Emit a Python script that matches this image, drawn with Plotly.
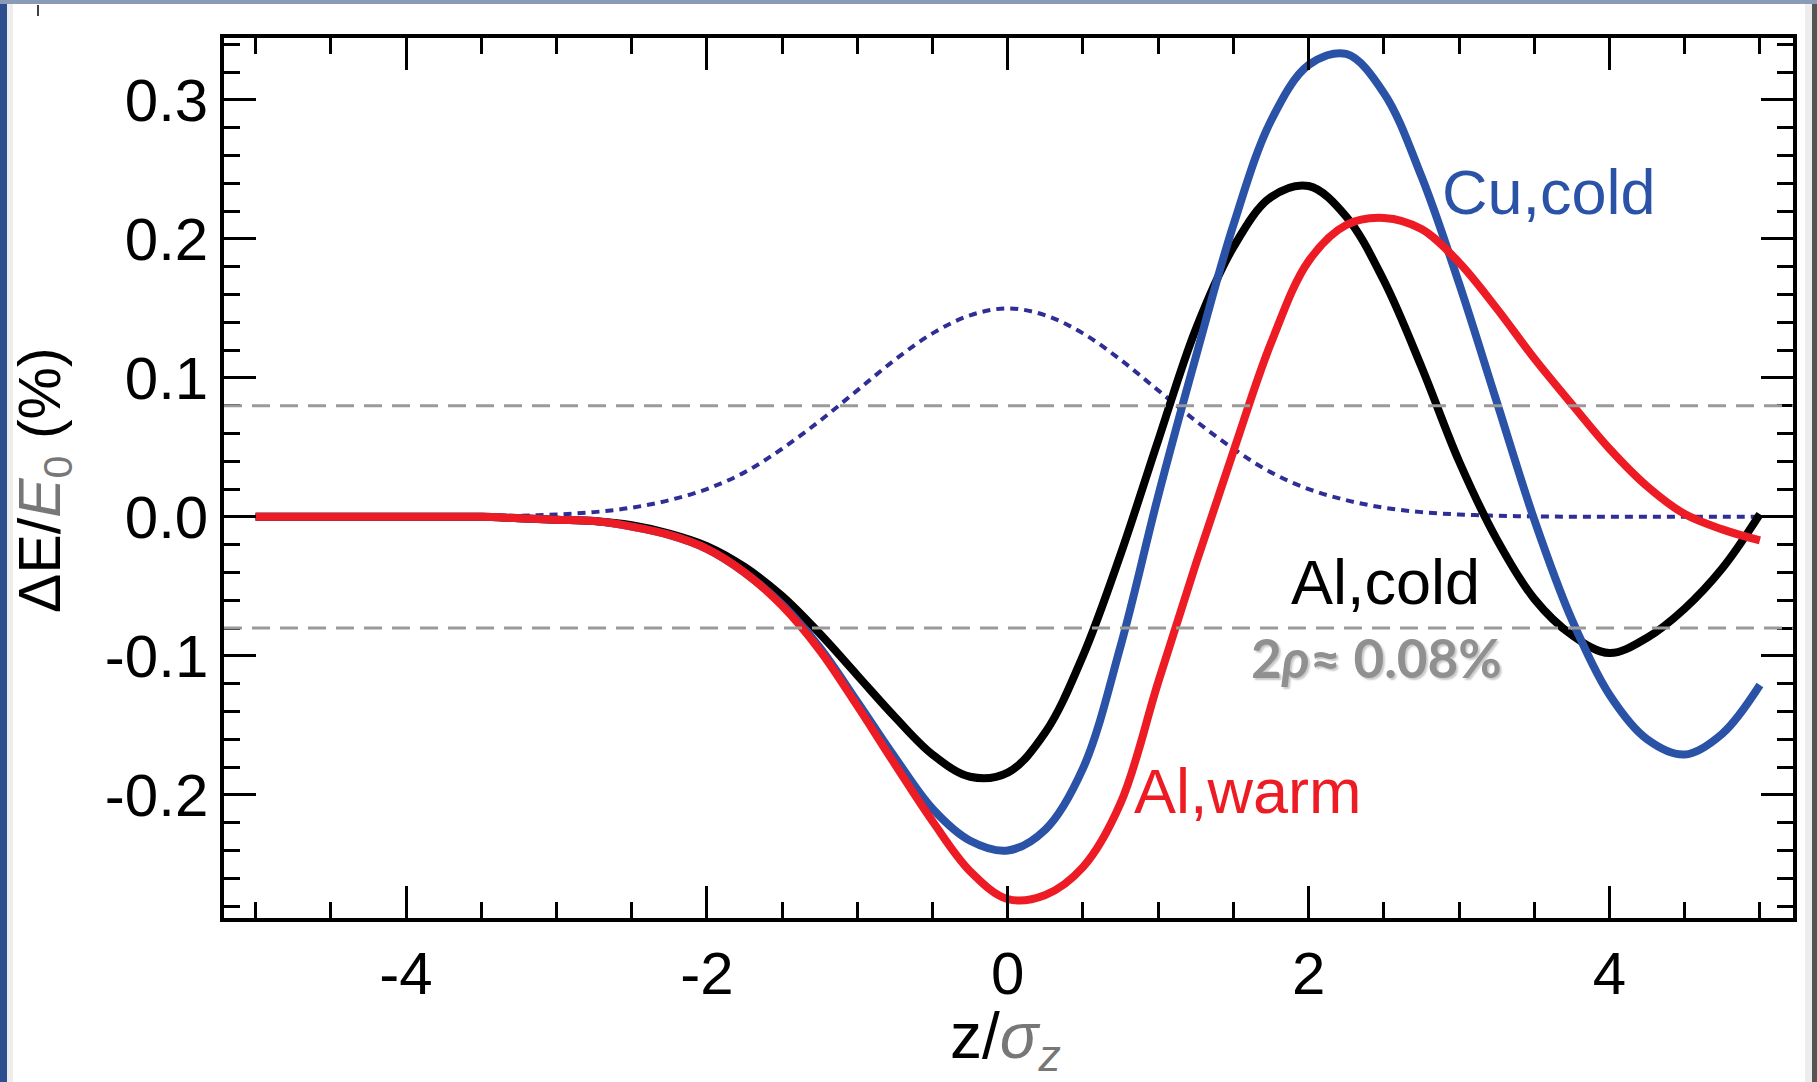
import plotly.graph_objects as go

# ---------------- data ----------------
z = [-5.0, -4.75, -4.5, -4.25, -4.0, -3.75, -3.5, -3.25, -3.0, -2.75, -2.5, -2.25,
     -2.0, -1.75, -1.5, -1.25, -1.0, -0.75, -0.5, -0.25, 0.0, 0.25, 0.5, 0.75,
     1.0, 1.25, 1.5, 1.75, 2.0, 2.25, 2.5, 2.75, 3.0, 3.25, 3.5, 3.75,
     4.0, 4.25, 4.5, 4.75, 5.0]

al_cold = [0, 0, 0, 0, 0, 0, 0, -0.001, -0.002, -0.003, -0.006, -0.012,
           -0.021, -0.036, -0.057, -0.084, -0.114, -0.144, -0.171, -0.187, -0.184, -0.155,
           -0.100, -0.027, 0.055, 0.135, 0.194, 0.230, 0.238, 0.216, 0.170, 0.108,
           0.040, -0.016, -0.059, -0.085, -0.098, -0.087, -0.066, -0.037, 0.002]

cu_cold = [0, 0, 0, 0, 0, 0, 0, -0.001, -0.002, -0.003, -0.007, -0.013,
           -0.023, -0.040, -0.063, -0.094, -0.133, -0.173, -0.210, -0.233, -0.240, -0.225,
           -0.181, -0.093, 0.015, 0.115, 0.210, 0.285, 0.325, 0.333, 0.305, 0.245,
           0.168, 0.083, -0.002, -0.074, -0.128, -0.160, -0.171, -0.156, -0.121]

al_warm = [0, 0, 0, 0, 0, 0, 0, -0.001, -0.002, -0.003, -0.007, -0.013,
           -0.023, -0.040, -0.064, -0.096, -0.136, -0.178, -0.219, -0.255, -0.275, -0.272,
           -0.252, -0.206, -0.119, -0.034, 0.047, 0.125, 0.184, 0.210, 0.215, 0.207,
           0.183, 0.150, 0.114, 0.081, 0.049, 0.022, 0.002, -0.009, -0.017]

bunch = [0, 0, 0, 0, 0, 0, 0.0003, 0.0008, 0.0017, 0.0034, 0.0066, 0.012,
         0.020, 0.032, 0.049, 0.069, 0.091, 0.113, 0.132, 0.145, 0.150, 0.145,
         0.132, 0.113, 0.091, 0.069, 0.049, 0.032, 0.020, 0.012, 0.0066, 0.0034,
         0.0017, 0.0008, 0.0003, 0.0001, 0, 0, 0, 0, 0]

band = [0.08, -0.08]

x_tick_vals = [-4, -2, 0, 2, 4]
x_tick_text = ["-4", "-2", "0", "2", "4"]
y_tick_vals = [-0.2, -0.1, 0.0, 0.1, 0.2, 0.3]
y_tick_text = ["-0.2", "-0.1", "0.0", "0.1", "0.2", "0.3"]

labels = ["Cu,cold", "Al,cold", "Al,warm"]

# ---------------- figure ----------------
W, H = 1817, 1082
ML, MR, MT, MB = 224, 24, 38, 164
FONT = "Liberation Sans, Arial, Helvetica, sans-serif"

RED = "#ED1C24"
BLUE = "#2A52A6"
DOTBLUE = "#2E2E96"
GRAY = "#9A9A9A"


def px(xp):
    return (xp - ML) / (W - ML - MR)


def py(yp):
    return (H - MB - yp) / (H - MT - MB)


fig = go.Figure()
line_kw = dict(shape="spline", smoothing=1.0)
fig.add_trace(go.Scatter(x=z, y=bunch, mode="lines",
                         line=dict(color=DOTBLUE, width=4, dash="8px,6px", **line_kw)))
fig.add_trace(go.Scatter(x=z, y=al_cold, mode="lines",
                         line=dict(color="black", width=8, **line_kw)))
fig.add_trace(go.Scatter(x=z, y=cu_cold, mode="lines",
                         line=dict(color=BLUE, width=8, **line_kw)))
fig.add_trace(go.Scatter(x=z, y=al_warm, mode="lines",
                         line=dict(color=RED, width=8, **line_kw)))

shapes = []
for b in band:
    shapes.append(dict(type="line", xref="paper", yref="y", x0=0, x1=1, y0=b, y1=b,
                       line=dict(color=GRAY, width=3, dash="18px,10px"), layer="above"))

# slide-screenshot border decorations
shapes += [
    dict(type="rect", xref="paper", yref="paper", x0=px(0), x1=px(7), y0=py(H), y1=py(0),
         fillcolor="#2D4F8F", line=dict(width=0), layer="below"),
    dict(type="rect", xref="paper", yref="paper", x0=px(7), x1=px(13), y0=py(H), y1=py(4),
         fillcolor="#EDEDED", line=dict(width=0), layer="below"),
    dict(type="rect", xref="paper", yref="paper", x0=px(0), x1=px(W), y0=py(4), y1=py(0),
         fillcolor="#8A9BB8", line=dict(width=0), layer="below"),
    dict(type="rect", xref="paper", yref="paper", x0=px(1805), x1=px(1812), y0=py(H), y1=py(4),
         fillcolor="#EDEDED", line=dict(width=0), layer="below"),
    dict(type="rect", xref="paper", yref="paper", x0=px(1812), x1=px(W), y0=py(H), y1=py(4),
         fillcolor="#555555", line=dict(width=0), layer="below"),
    dict(type="line", xref="paper", yref="paper", x0=px(38), x1=px(38), y0=py(5), y1=py(16),
         line=dict(color="black", width=1.5)),
]

ann_font = dict(family=FONT, size=63)
annotations = [
    dict(x=3.60, y=0.234, xref="x", yref="y", text=labels[0], showarrow=False,
         font=dict(ann_font, color=BLUE), xanchor="center", yanchor="middle"),
    dict(x=2.51, y=-0.047, xref="x", yref="y", text=labels[1], showarrow=False,
         font=dict(ann_font, color="black"), xanchor="center", yanchor="middle"),
    dict(x=1.60, y=-0.197, xref="x", yref="y", text=labels[2], showarrow=False,
         font=dict(ann_font, color=RED), xanchor="center", yanchor="middle"),
    dict(x=2.45, y=-0.101, xref="x", yref="y",
         text="2<i>ρ</i>≈ 0.08%", showarrow=False,
         font=dict(family="Lato, Open Sans, sans-serif", size=53, color="#909090",
                   weight="bold", shadow="2px 2px 2px #c8c8c8"),
         xanchor="center", yanchor="middle"),
    # axis titles
    dict(x=px(1005), y=py(1040), xref="paper", yref="paper",
         text="z/<span style='color:#777777'><i>σ</i><sub><i>z</i></sub></span>",
         showarrow=False, font=dict(family=FONT, size=64, color="black"),
         xanchor="center", yanchor="middle"),
    dict(x=px(44), y=py(480), xref="paper", yref="paper", textangle=-90,
         text="ΔE/<span style='color:#777777'><i>E</i><sub>0</sub></span> (%)",
         showarrow=False, font=dict(family=FONT, size=59, color="black"),
         xanchor="center", yanchor="middle"),
]

axis_common = dict(
    showline=True, linecolor="black", linewidth=3.5, mirror="ticks",
    ticks="inside", ticklen=32, tickwidth=3, tickcolor="black",
    showgrid=False, zeroline=False,
    tickfont=dict(family=FONT, size=60, color="black"),
    tickmode="array",
)

fig.update_layout(
    width=W, height=H,
    margin=dict(l=ML, r=MR, t=MT, b=MB),
    paper_bgcolor="white", plot_bgcolor="white",
    showlegend=False,
    shapes=shapes,
    annotations=annotations,
    xaxis=dict(axis_common, range=[-5.21, 5.22], tickvals=x_tick_vals, ticktext=x_tick_text,
               minor=dict(ticks="inside", ticklen=16, tickwidth=3, tickcolor="black",
                          tickmode="linear", tick0=0, dtick=0.5, showgrid=False)),
    yaxis=dict(axis_common, range=[-0.2886, 0.3445], tickvals=y_tick_vals, ticktext=y_tick_text,
               minor=dict(ticks="inside", ticklen=16, tickwidth=3, tickcolor="black",
                          tickmode="linear", tick0=0, dtick=0.02, showgrid=False)),
)

fig.write_html("out.html")
